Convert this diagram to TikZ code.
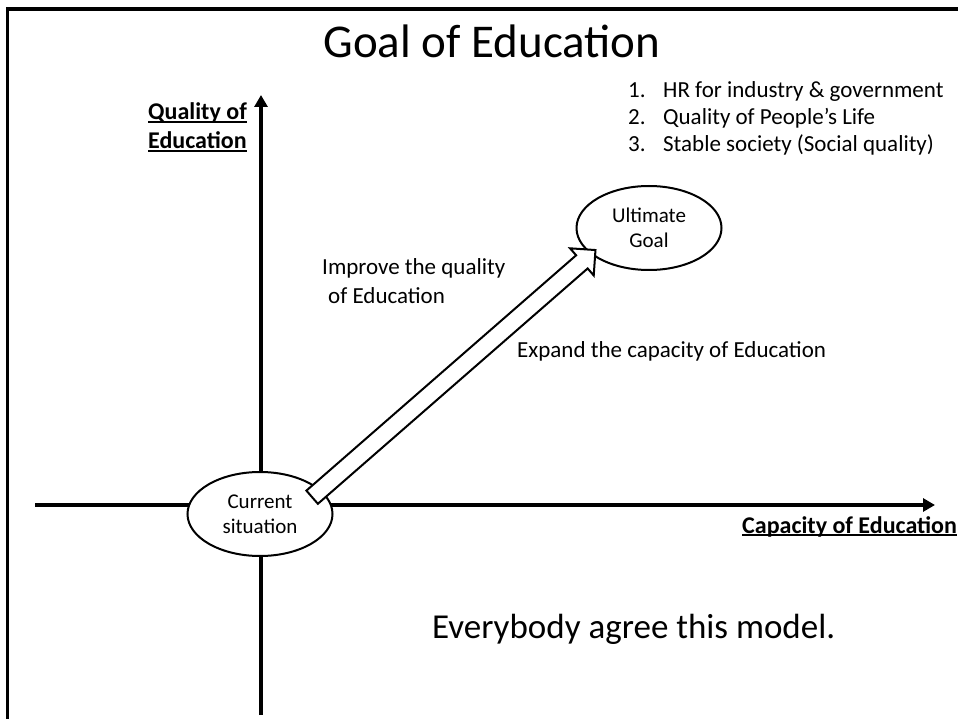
\documentclass[tikz,border=0pt]{standalone}
\usepackage{fontspec}
\setmainfont{Carlito}
\usetikzlibrary{positioning,calc,shapes.geometric,shapes.arrows,arrows.meta}
\tikzset{state node/.style={ellipse,draw,fill=white,line width=2pt,minimum width=145pt,minimum height=84pt,inner sep=0pt,align=center,font=\fontsize{21}{25}\selectfont},
axis line/.style={line width=4pt,-{Triangle[length=12pt,width=13pt]}},
block arrow/.style={single arrow,draw,fill=white,line width=2pt,inner xsep=0pt,inner ysep=7.5pt,minimum width=36pt,single arrow head extend=9pt},
small text/.style={font=\fontsize{23}{28}\selectfont,inner sep=0pt},
axis label/.style={font=\fontsize{24}{29}\selectfont\bfseries,inner sep=0pt},
}
\newcommand{\axisul}[1]{\setbox0\hbox{#1}\rlap{\rule[-3pt]{\wd0}{1.8pt}}\box0}

\begin{document}
\begin{tikzpicture}[x=1pt,y=-1pt]
	\useasboundingbox (0,0) rectangle (958,719);
	\draw[line width=3.5pt] (7.5,719) -- (7.5,9) -- (958,9);
	\node[anchor=base,font=\fontsize{47}{56}\selectfont] (title) at (492,58) {Goal of Education};
	
	% axes
	\coordinate (xstart) at (35,505);
	\coordinate (xend) at (935,505);
	\coordinate (ystart) at (261,715);
	\coordinate (yend) at (261,95);
	\draw[axis line] (xstart) -- (xend);
	\draw[axis line] (ystart) -- (yend);
	\node[axis label,anchor=base west] (qual1) at (148,120) {\axisul{Quality of}};
	\node[axis label,anchor=base west] (qual2) at (148,149) {\axisul{Education}};
	\node[axis label,anchor=base west] (cap) at (742,533) {\axisul{Capacity of Education}};
	
	% goals
	\node[small text,anchor=base west] (goal1) at (628,98) {\makebox[35pt][l]{1.}HR for industry \& government};
	\node[small text,anchor=base west] (goal2) at (628,125) {\makebox[35pt][l]{2.}Quality of People’s Life};
	\node[small text,anchor=base west] (goal3) at (628,152) {\makebox[35pt][l]{3.}Stable society (Social quality)};
	
	\node[state node] (current) at (260,514) {Current\\situation};
	\node[state node] (ultimate) at (649,228) {Ultimate\\Goal};
	\coordinate (tail) at (309,500);
	\coordinate (tip) at (592,253);
	\node[block arrow,minimum height=376pt,rotate=41.1] (move) at ($(tail)!0.5!(tip)$) {};
	
	\node[small text,anchor=base west] (improve1) at (322,275) {Improve the quality};
	\node[small text,anchor=base west] (improve2) at (328,303) {of Education};
	\node[small text,anchor=base west] (expand) at (517,357) {Expand the capacity of Education};
	
	\node[anchor=base west,inner sep=0pt,font=\fontsize{35}{42}\selectfont] (agree) at (432,638) {Everybody agree this model.};
\end{tikzpicture}
\end{document}
